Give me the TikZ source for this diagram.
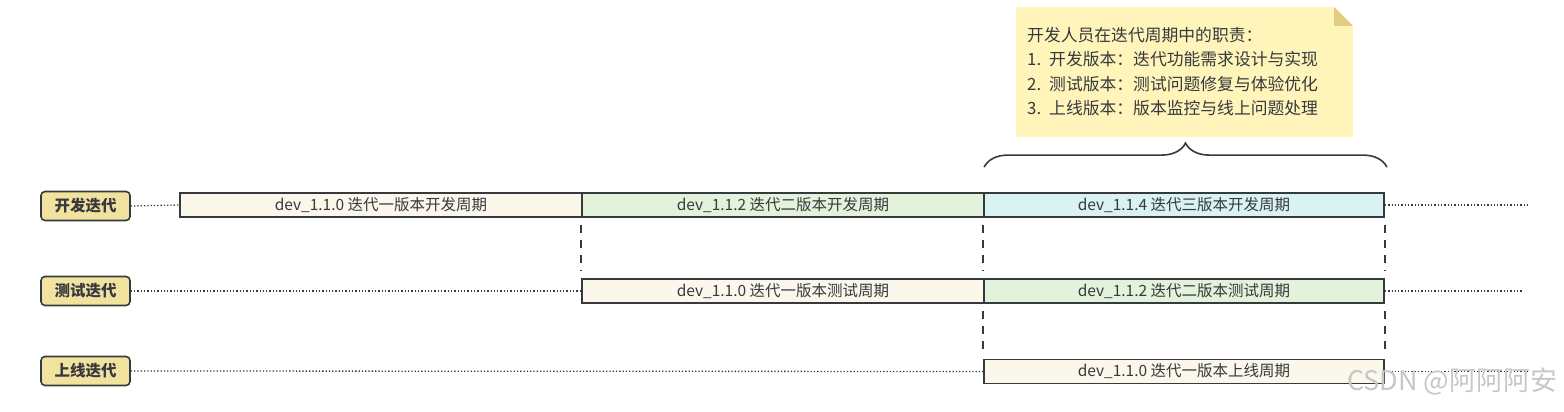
\documentclass[tikz,border=0pt]{standalone}
\usepackage{fontspec}
\setmainfont{Noto Sans CJK SC}
\usetikzlibrary{arrows.meta,positioning,calc,decorations.pathreplacing}
\definecolor{ink}{HTML}{36393D}
\definecolor{lanefill}{HTML}{F1E29F}
\definecolor{creamfill}{HTML}{FBF7EA}
\definecolor{greenfill}{HTML}{E3F3DB}
\definecolor{cyanfill}{HTML}{D9F3F2}
\definecolor{notefill}{HTML}{FFF5BA}
\definecolor{notefold}{HTML}{E3CD80}

\begin{document}
\begin{tikzpicture}[x=1pt,y=-1pt,
  lane/.style={draw=ink,line width=1.6pt,rounded corners=4pt,fill=lanefill,text=ink,
    font=\bfseries\fontsize{15.5}{17}\selectfont,minimum width=89pt,minimum height=29pt,inner sep=0pt},
  bar/.style={draw=ink,line width=1.8pt,minimum height=24pt,inner sep=0pt,text=ink,
    font=\fontsize{15.5}{18}\selectfont},
  dots/.style={draw=ink,line width=1.3pt,dash pattern=on 1.3pt off 2pt},
  vdash/.style={draw=ink,line width=1.8pt,dash pattern=on 8pt off 7pt,shorten <=7pt,shorten >=7pt}]
\useasboundingbox (0,0) rectangle (1564,412);
% lanes
\node[lane] (dev) at (85.5,206) {开发迭代};
\node[lane] (test) at (85.5,291) {测试迭代};
\node[lane] (rel) at (85.5,371) {上线迭代};
% version bars
\node[bar,fill=creamfill,minimum width=402pt] (d1) at (381,205) {dev\_1.1.0 迭代一版本开发周期};
\node[bar,fill=greenfill,minimum width=402pt] (d2) at (783,205) {dev\_1.1.2 迭代二版本开发周期};
\node[bar,fill=cyanfill,minimum width=400pt] (d3) at (1184,205) {dev\_1.1.4 迭代三版本开发周期};
\node[bar,fill=creamfill,minimum width=402pt] (t1) at (783,291) {dev\_1.1.0 迭代一版本测试周期};
\node[bar,fill=greenfill,minimum width=400pt] (t2) at (1184,291) {dev\_1.1.2 迭代二版本测试周期};
\node[bar,fill=creamfill,minimum width=400pt] (r1) at (1184,371.5) {dev\_1.1.0 迭代一版本上线周期};
% time lines
\coordinate (dend) at (1527,205);
\coordinate (tend) at (1523,291);
\coordinate (rend) at (1528,371.5);
\draw[dots] (dev.east) -- (d1.west);
\draw[dots] (d3.east) -- (dend);
\draw[dots] (test.east) -- (t1.west);
\draw[dots] (t2.east) -- (tend);
\draw[dots] (rel.east) -- (r1.west);
\draw[dots] (r1.east) -- (rend);
% hand-over marks
\draw[vdash] (d2.south west) -- (t1.north west);
\draw[vdash] (d3.south west) -- (t2.north west);
\draw[vdash] (d3.south east) -- (t2.north east);
\draw[vdash] (t2.south west) -- (r1.north west);
\draw[vdash] (t2.south east) -- (r1.north east);
% note
\fill[notefill] (1016,7) -- (1334,7) -- (1353,26) -- (1353,137) -- (1016,137) -- cycle;
\fill[notefold] (1334,7) -- (1353,26) -- (1334,26) -- cycle;
\node[anchor=north west,align=left,inner sep=0pt,text=ink,font=\fontsize{16.8}{24.5}\selectfont] (note) at (1027,27)
  {开发人员在迭代周期中的职责：\\
   1.\hspace{8pt}开发版本：迭代功能需求设计与实现\\
   2.\hspace{8pt}测试版本：测试问题修复与体验优化\\
   3.\hspace{8pt}上线版本：版本监控与线上问题处理};
\draw[draw=ink,line width=1.6pt,decorate,decoration={brace,amplitude=24pt}]
  ($(d3.north west)+(1,-25)$) -- ($(d3.north east)+(2,-25)$);
% watermark
\node[anchor=east,text=black!22,font=\fontsize{27}{28}\selectfont] (mark) at (1561,381) {CSDN @阿阿阿安};
\end{tikzpicture}
\end{document}
